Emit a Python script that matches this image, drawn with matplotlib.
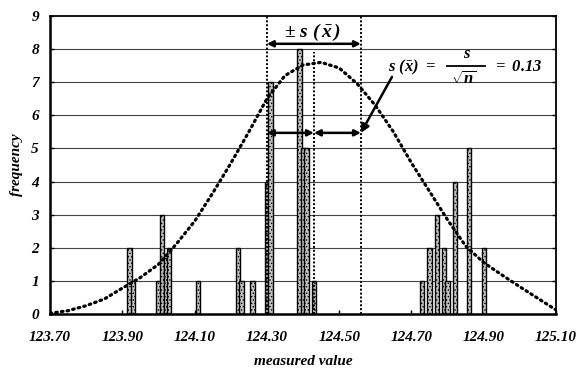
import numpy as np
import matplotlib
matplotlib.use("Agg")
import matplotlib.pyplot as plt

values = [123.92, 123.93, 124.00, 124.01, 124.02, 124.03, 124.11, 124.22, 124.23, 124.26,
          124.30, 124.31, 124.39, 124.40, 124.41, 124.43, 124.73, 124.75, 124.77, 124.79,
          124.80, 124.82, 124.86, 124.90]
freq = [2, 1, 1, 3, 1.7, 2, 1, 2, 1, 1,
        4, 7, 8, 5, 5, 1, 1, 2, 3, 2,
        1, 4, 5, 2]

# dotted bell curve, read every 0.05
curve_x = [123.70, 123.75, 123.80, 123.85, 123.90, 123.95, 124.00, 124.05, 124.10, 124.15,
           124.20, 124.25, 124.30, 124.35, 124.40, 124.45, 124.50, 124.55, 124.60, 124.65,
           124.70, 124.75, 124.80, 124.85, 124.90, 124.95, 125.00, 125.05, 125.10]
curve_y = [0.02, 0.10, 0.25, 0.45, 0.78, 1.10, 1.50, 2.12, 2.80, 3.65,
           4.55, 5.50, 6.50, 7.20, 7.52, 7.60, 7.43, 6.95, 6.30, 5.50,
           4.56, 3.70, 2.84, 2.05, 1.55, 1.18, 0.82, 0.47, 0.12]

mean = 124.43
s_mean = 0.13
xticks = [123.70, 123.90, 124.10, 124.30, 124.50, 124.70, 124.90, 125.10]

plt.rcParams['font.family'] = 'Liberation Serif'
plt.rcParams['font.weight'] = 'bold'
plt.rcParams['font.style'] = 'italic'
plt.rcParams['mathtext.fontset'] = 'custom'
plt.rcParams['mathtext.rm'] = 'Liberation Serif:bold:italic'
plt.rcParams['mathtext.it'] = 'Liberation Serif:bold:italic'
plt.rcParams['mathtext.bf'] = 'Liberation Serif:bold:italic'
plt.rcParams['mathtext.sf'] = 'Liberation Serif:bold:italic'
plt.rcParams['hatch.linewidth'] = 0.6

fig = plt.figure(figsize=(5.79, 3.72), dpi=100)
ax = fig.add_axes([0.0864, 0.156, 0.874, 0.801])

# grid lines
for k in range(1, 9):
    ax.axhline(k, color='#444444', lw=0.8, zorder=1)

ax.bar(values, freq, width=0.012, facecolor='#c4c4c4', edgecolor='black',
       linewidth=1.0, hatch='.....', zorder=2)

ax.plot(curve_x, curve_y, color='black', lw=2.3, linestyle=(0, (0.5, 1.3)),
        dash_capstyle='round', zorder=4)

# mean and +- s(xbar) lines
dots = (0, (1, 1))
ax.plot([mean - s_mean] * 2, [0, 9], color='black', lw=1.4, linestyle=dots, zorder=3)
ax.plot([mean + s_mean] * 2, [0, 9], color='black', lw=1.4, linestyle=dots, zorder=3)
ax.plot([mean] * 2, [0, 7.9], color='black', lw=1.4, linestyle=dots, zorder=3)

arr = dict(arrowstyle='<|-|>', color='black', lw=1.8, mutation_scale=9, shrinkA=0, shrinkB=0)
ax.annotate('', xy=(mean - s_mean, 8.16), xytext=(mean + s_mean, 8.16), arrowprops=arr, zorder=5)
ax.annotate('', xy=(mean - s_mean, 5.47), xytext=(mean, 5.47), arrowprops=arr, zorder=5)
ax.annotate('', xy=(mean, 5.47), xytext=(mean + s_mean, 5.47), arrowprops=arr, zorder=5)

ax.text(mean - 0.005, 8.5, r'$\pm\ s\ (\,\bar{x}\,)$', ha='center', va='center', fontsize=14)

# s(xbar) = s / sqrt(n) = 0.13, written out piece by piece
ax.text(124.70, 7.45, r'$s\ (\bar{x})\ =$', ha='center', va='center', fontsize=12)
ax.text(124.855, 7.85, r'$s$', ha='center', va='center', fontsize=12)
ax.plot([124.795, 124.905], [7.49, 7.49], color='black', lw=1.3, solid_capstyle='butt')
ax.text(124.845, 7.08, r'$\sqrt{n}$', ha='center', va='center', fontsize=12)
ax.text(124.995, 7.47, r'$=\ 0.13$', ha='center', va='center', fontsize=12)

ax.annotate('', xy=(mean + s_mean, 5.47), xytext=(124.646, 7.16),
            arrowprops=dict(arrowstyle='-|>', color='black', lw=1.8, mutation_scale=12,
                            shrinkA=0, shrinkB=0), zorder=5)

ax.set_xlim(123.70, 125.10)
ax.set_ylim(0, 9)
ax.set_xticks(xticks)
ax.set_xticklabels(['%.2f' % t for t in xticks])
ax.set_yticks(range(0, 10))
ax.tick_params(direction='in', length=3, width=1, labelsize=11, right=True)
ax.tick_params(axis='x', pad=12)
ax.tick_params(axis='y', pad=8)
for side in ['left', 'bottom']:
    ax.spines[side].set_linewidth(1.8)
for side in ['top', 'right']:
    ax.spines[side].set_linewidth(1.3)

ax.set_xlabel('measured value', fontsize=11, fontweight='bold', labelpad=8)
ax.set_ylabel('frequency', fontsize=11, fontweight='bold', labelpad=6)

fig.savefig('out.png', dpi=100)
